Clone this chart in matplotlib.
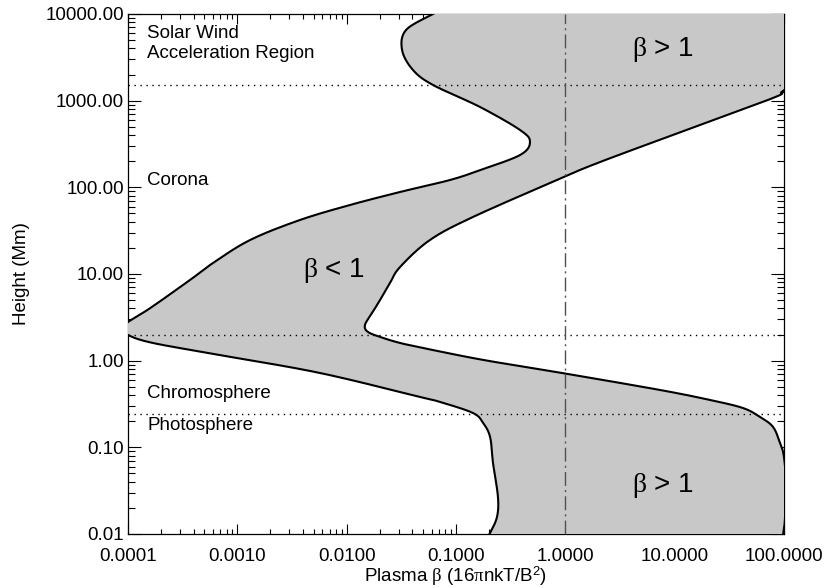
import numpy as np
import matplotlib
matplotlib.use("Agg")
import matplotlib.pyplot as plt
from matplotlib.ticker import FixedLocator, FormatStrFormatter, LogLocator, NullFormatter

plt.rcParams['font.family'] = ['Liberation Sans', 'DejaVu Sans']
plt.rcParams['mathtext.fontset'] = 'custom'
plt.rcParams['mathtext.rm'] = 'Liberation Sans'
plt.rcParams['mathtext.it'] = 'Liberation Serif'
plt.rcParams['mathtext.bf'] = 'Liberation Sans:bold'

# ---- data (beta, height in Mm) ----
# low-beta boundary, ordered from bottom to top
left_height = [0.009, 0.0103, 0.0157, 0.0267, 0.066, 0.1316, 0.191, 0.249, 0.334, 0.381,
               0.721, 1.16, 1.60, 1.98, 2.38, 2.79, 4.05, 8.53, 13.4, 24.7, 42.0, 62.5, 88.4,
               121.5, 158, 236, 334, 459, 845, 1517, 2259, 3842, 6535, 10000, 12000]
left_beta = [0.19, 0.205, 0.237, 0.242, 0.218, 0.205, 0.177, 0.143, 0.0714, 0.0469,
             0.0057, 6.94e-4, 1.69e-4, 1.0e-4, 0.9e-4, 1.0e-4, 1.6e-4, 3.69e-4, 5.99e-4,
             1.31e-3, 3.74e-3, 0.0107, 0.0308, 0.0881, 0.166, 0.385, 0.475, 0.385, 0.166,
             0.0616, 0.0404, 0.0321, 0.0349, 0.0616, 0.08]
# high-beta boundary, ordered from bottom to top
right_height = [0.009, 0.0103, 0.015, 0.04, 0.08, 0.1122, 0.172, 0.224, 0.284, 0.352, 0.459,
                0.721, 1.02, 1.40, 1.60, 1.83, 2.14, 2.58, 3.55, 5.01, 7.88, 12.05, 24.7,
                45.5, 121.5, 196, 524, 1074, 1259, 1500, 10000, 20000]
right_beta = [97.0, 98.5, 102.0, 104.0, 99.5, 91.9, 79.4, 60.3, 42.2, 21.05, 7.35,
              0.93, 0.177, 0.0499, 0.0308, 0.0215, 0.0157, 0.0147, 0.0171, 0.0202, 0.0249,
              0.0308, 0.0578, 0.143, 0.839, 2.08, 17.05, 79.4, 98.0, 115.0, 1000.0, 1000.0]

region_heights = [1517, 2.0, 0.244]   # dotted boundaries
unity_beta = 1.0

x_ticks = [1e-4, 1e-3, 1e-2, 1e-1, 1, 10, 100]
y_ticks = [0.01, 0.1, 1, 10, 100, 1000, 10000]


def smooth(xs, ys, n=12):
    """Catmull-Rom smoothing in log-log space."""
    lx = np.log10(np.asarray(xs, float))
    ly = np.log10(np.asarray(ys, float))
    px = np.concatenate([[2 * lx[0] - lx[1]], lx, [2 * lx[-1] - lx[-2]]])
    py = np.concatenate([[2 * ly[0] - ly[1]], ly, [2 * ly[-1] - ly[-2]]])
    ox, oy = [], []
    t = np.linspace(0, 1, n, endpoint=False)
    for i in range(1, len(px) - 2):
        for arr, out in ((px, ox), (py, oy)):
            p0, p1, p2, p3 = arr[i - 1], arr[i], arr[i + 1], arr[i + 2]
            out.extend(0.5 * ((2 * p1) + (-p0 + p2) * t + (2 * p0 - 5 * p1 + 4 * p2 - p3) * t ** 2
                              + (-p0 + 3 * p1 - 3 * p2 + p3) * t ** 3))
    ox.append(lx[-1]); oy.append(ly[-1])
    return 10 ** np.array(ox), 10 ** np.array(oy)


fig = plt.figure(figsize=(8.26, 5.88), dpi=100)
ax = fig.add_axes([128 / 826, 1 - 534 / 588, (784 - 128) / 826, (534 - 14) / 588])
ax.set_xscale('log')
ax.set_yscale('log')
ax.set_xlim(1e-4, 100)
ax.set_ylim(0.01, 10000)

lbx, lby = smooth(left_beta, left_height)
rbx, rby = smooth(right_beta, right_height)

poly_x = np.concatenate([lbx, rbx[::-1]])
poly_y = np.concatenate([lby, rby[::-1]])
ax.fill(poly_x, poly_y, color='#c8c8c8', lw=0, zorder=3)
ax.plot(lbx, lby, color='black', lw=1.5, zorder=4)
ax.plot(rbx, rby, color='black', lw=1.5, zorder=4)

for h in region_heights:
    ax.axhline(h, color='black', lw=1.0, ls=(0, (1, 3.3)), zorder=5)
ax.axvline(unity_beta, color='#505050', lw=1.0, ls=(0, (10, 3, 1.5, 3)), zorder=5)

ax.xaxis.set_major_locator(FixedLocator(x_ticks))
ax.yaxis.set_major_locator(FixedLocator(y_ticks))
ax.xaxis.set_minor_locator(LogLocator(base=10, subs=np.arange(2, 10), numticks=20))
ax.yaxis.set_minor_locator(LogLocator(base=10, subs=np.arange(2, 10), numticks=20))
ax.xaxis.set_major_formatter(FormatStrFormatter('%.4f'))
ax.yaxis.set_major_formatter(FormatStrFormatter('%.2f'))
ax.xaxis.set_minor_formatter(NullFormatter())
ax.yaxis.set_minor_formatter(NullFormatter())

ax.tick_params(axis='x', which='major', direction='in', length=7.5, width=0.8,
               top=True, bottom=True, labelsize=13.5, pad=10)
ax.tick_params(axis='x', which='minor', direction='in', length=3.75, width=0.8,
               top=True, bottom=True)
ax.tick_params(axis='y', which='major', direction='in', length=9.4, width=0.8,
               left=True, right=True, labelsize=13.5, pad=3)
ax.tick_params(axis='y', which='minor', direction='in', length=4.7, width=0.8,
               left=True, right=True)
for s in ax.spines.values():
    s.set_linewidth(0.9)

ax.set_xlabel(r'Plasma $\beta$ (16$\pi$nkT/B$^{2}$)', fontsize=13.5, labelpad=0)
ax.set_ylabel('Height (Mm)', fontsize=13.5, labelpad=11)

fs = 13.5
ax.text(1.5e-4, 10 ** (4 - (34 - 14) / 86.67), 'Solar Wind', fontsize=fs, va='center', ha='left', zorder=6)
ax.text(1.5e-4, 10 ** (4 - (54 - 14) / 86.67), 'Acceleration Region', fontsize=fs, va='center', ha='left', zorder=6)
ax.text(1.5e-4, 10 ** (4 - (181 - 14) / 86.67), 'Corona', fontsize=fs, va='center', ha='left', zorder=6)
ax.text(1.5e-4, 10 ** (4 - (394 - 14) / 86.67), 'Chromosphere', fontsize=fs, va='center', ha='left', zorder=6)
ax.text(1.5e-4, 10 ** (4 - (426 - 14) / 86.67), 'Photosphere', fontsize=fs, va='center', ha='left', zorder=6)

bfs = 20
ax.text(10 ** (-4 + (334 - 128) / 109.33), 10 ** (4 - (271 - 14) / 86.67), r'$\beta$ < 1',
        fontsize=bfs, ha='center', va='center', zorder=6)
ax.text(10 ** (-4 + (663 - 128) / 109.33), 10 ** (4 - (50 - 14) / 86.67), r'$\beta$ > 1',
        fontsize=bfs, ha='center', va='center', zorder=6)
ax.text(10 ** (-4 + (663 - 128) / 109.33), 10 ** (4 - (486 - 14) / 86.67), r'$\beta$ > 1',
        fontsize=bfs, ha='center', va='center', zorder=6)

fig.savefig('out.png', dpi=100)
